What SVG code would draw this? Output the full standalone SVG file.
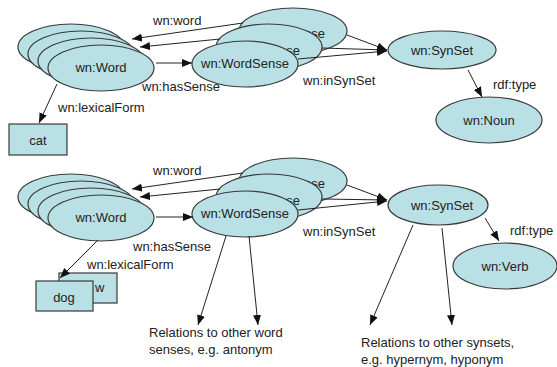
<svg xmlns="http://www.w3.org/2000/svg" width="557" height="367" viewBox="0 0 557 367">
<defs>
<style>
.n{fill:#b9e0e4;stroke:#3a3a3a;stroke-width:1.2}
.t{font-family:"Liberation Sans",Arial,sans-serif;font-size:13px;fill:#222}
.c{text-anchor:middle}
.r{text-anchor:end}
.e{stroke:#222;stroke-width:1;fill:none;marker-end:url(#ah)}
</style>
<marker id="ah" markerUnits="userSpaceOnUse" markerWidth="11" markerHeight="9" refX="10" refY="4" orient="auto">
<path d="M0,0 L10,4 L0,8 z" fill="#111"/>
</marker>
</defs>
<rect width="557" height="367" fill="#fff"/>

<g id="word1">
<ellipse class="n" cx="71" cy="47" rx="53" ry="23"/>
<ellipse class="n" cx="81" cy="54" rx="53" ry="23"/>
<ellipse class="n" cx="91" cy="61" rx="53" ry="23"/>
<ellipse class="n" cx="101" cy="68" rx="53" ry="23"/>
<text class="t c" x="101" y="72">wn:Word</text>
</g>
<g id="wordsense1">
<ellipse class="n" cx="293" cy="31" rx="54" ry="23"/>
<text class="t r" x="325" y="38">nse</text>
<ellipse class="n" cx="269" cy="47" rx="53" ry="23"/>
<text class="t r" x="300" y="55">se</text>
<ellipse class="n" cx="245" cy="64" rx="53" ry="23"/>
<text class="t c" x="245" y="68">wn:WordSense</text>
</g>
<g id="synset1">
<ellipse class="n" cx="442" cy="50" rx="54" ry="19"/>
<text class="t c" x="442" y="55">wn:SynSet</text>
</g>
<g id="noun">
<ellipse class="n" cx="489" cy="120" rx="53" ry="23"/>
<text class="t c" x="489" y="125">wn:Noun</text>
</g>
<g id="cat">
<rect class="n" x="9" y="124" width="58" height="31"/>
<text class="t c" x="38" y="145">cat</text>
</g>

<g id="word2">
<ellipse class="n" cx="71" cy="197" rx="53" ry="23"/>
<ellipse class="n" cx="81" cy="204" rx="53" ry="23"/>
<ellipse class="n" cx="91" cy="211" rx="53" ry="23"/>
<ellipse class="n" cx="101" cy="218" rx="53" ry="23"/>
<text class="t c" x="101" y="222">wn:Word</text>
</g>
<g id="wordsense2">
<ellipse class="n" cx="293" cy="181" rx="54" ry="23"/>
<text class="t r" x="325" y="188">nse</text>
<ellipse class="n" cx="269" cy="197" rx="53" ry="23"/>
<text class="t r" x="300" y="205">se</text>
<ellipse class="n" cx="245" cy="214" rx="53" ry="23"/>
<text class="t c" x="245" y="218">wn:WordSense</text>
</g>
<g id="synset2">
<ellipse class="n" cx="438" cy="205" rx="50" ry="20"/>
<text class="t c" x="442" y="210">wn:SynSet</text>
</g>
<g id="verb">
<ellipse class="n" cx="505" cy="266" rx="52" ry="23"/>
<text class="t c" x="505" y="271">wn:Verb</text>
</g>
<g id="dog">
<rect class="n" x="59" y="273" width="58" height="30"/>
<text class="t" x="95" y="292">w</text>
<rect class="n" x="36" y="281" width="57" height="30"/>
<text class="t c" x="64" y="302">dog</text>
</g>

<g id="connectors">
<line class="e" x1="243" y1="23" x2="132" y2="39"/>
<line class="e" x1="220" y1="39" x2="140" y2="47"/>
<line class="e" x1="156" y1="63" x2="192" y2="63"/>
<line class="e" x1="57" y1="84" x2="39" y2="123"/>
<line class="e" x1="347" y1="35" x2="387" y2="50"/>
<line class="e" x1="322" y1="48" x2="387" y2="50"/>
<line class="e" x1="298" y1="59" x2="387" y2="51"/>
<line class="e" x1="468" y1="70" x2="482" y2="97"/>

<line class="e" x1="243" y1="173" x2="132" y2="189"/>
<line class="e" x1="220" y1="189" x2="140" y2="197"/>
<line class="e" x1="156" y1="217" x2="193" y2="217"/>
<line class="e" x1="98" y1="240" x2="60" y2="278"/>
<line class="e" x1="347" y1="185" x2="387" y2="200"/>
<line class="e" x1="322" y1="199" x2="387" y2="200"/>
<line class="e" x1="298" y1="210" x2="387" y2="201"/>
<line class="e" x1="485" y1="218" x2="499" y2="241"/>
<line class="e" x1="226" y1="236" x2="198" y2="325"/>
<line class="e" x1="249" y1="236" x2="258" y2="325"/>
<line class="e" x1="413" y1="225" x2="370" y2="325"/>
<line class="e" x1="442" y1="228" x2="452" y2="325"/>

<text class="t" x="153" y="25">wn:word</text>
<text class="t" x="142" y="91">wn:hasSense</text>
<text class="t" x="58" y="112">wn:lexicalForm</text>
<text class="t" x="303" y="85">wn:inSynSet</text>
<text class="t" x="493" y="89">rdf:type</text>

<text class="t" x="153" y="175">wn:word</text>
<text class="t" x="133" y="251">wn:hasSense</text>
<text class="t" x="87" y="269">wn:lexicalForm</text>
<text class="t" x="303" y="236">wn:inSynSet</text>
<text class="t" x="510" y="235">rdf:type</text>
</g>
<text class="t" x="149" y="337">Relations to other word</text>
<text class="t" x="149" y="354">senses, e.g. antonym</text>
<text class="t" x="361" y="347">Relations to other synsets,</text>
<text class="t" x="361" y="364">e.g. hypernym, hyponym</text>
</svg>
